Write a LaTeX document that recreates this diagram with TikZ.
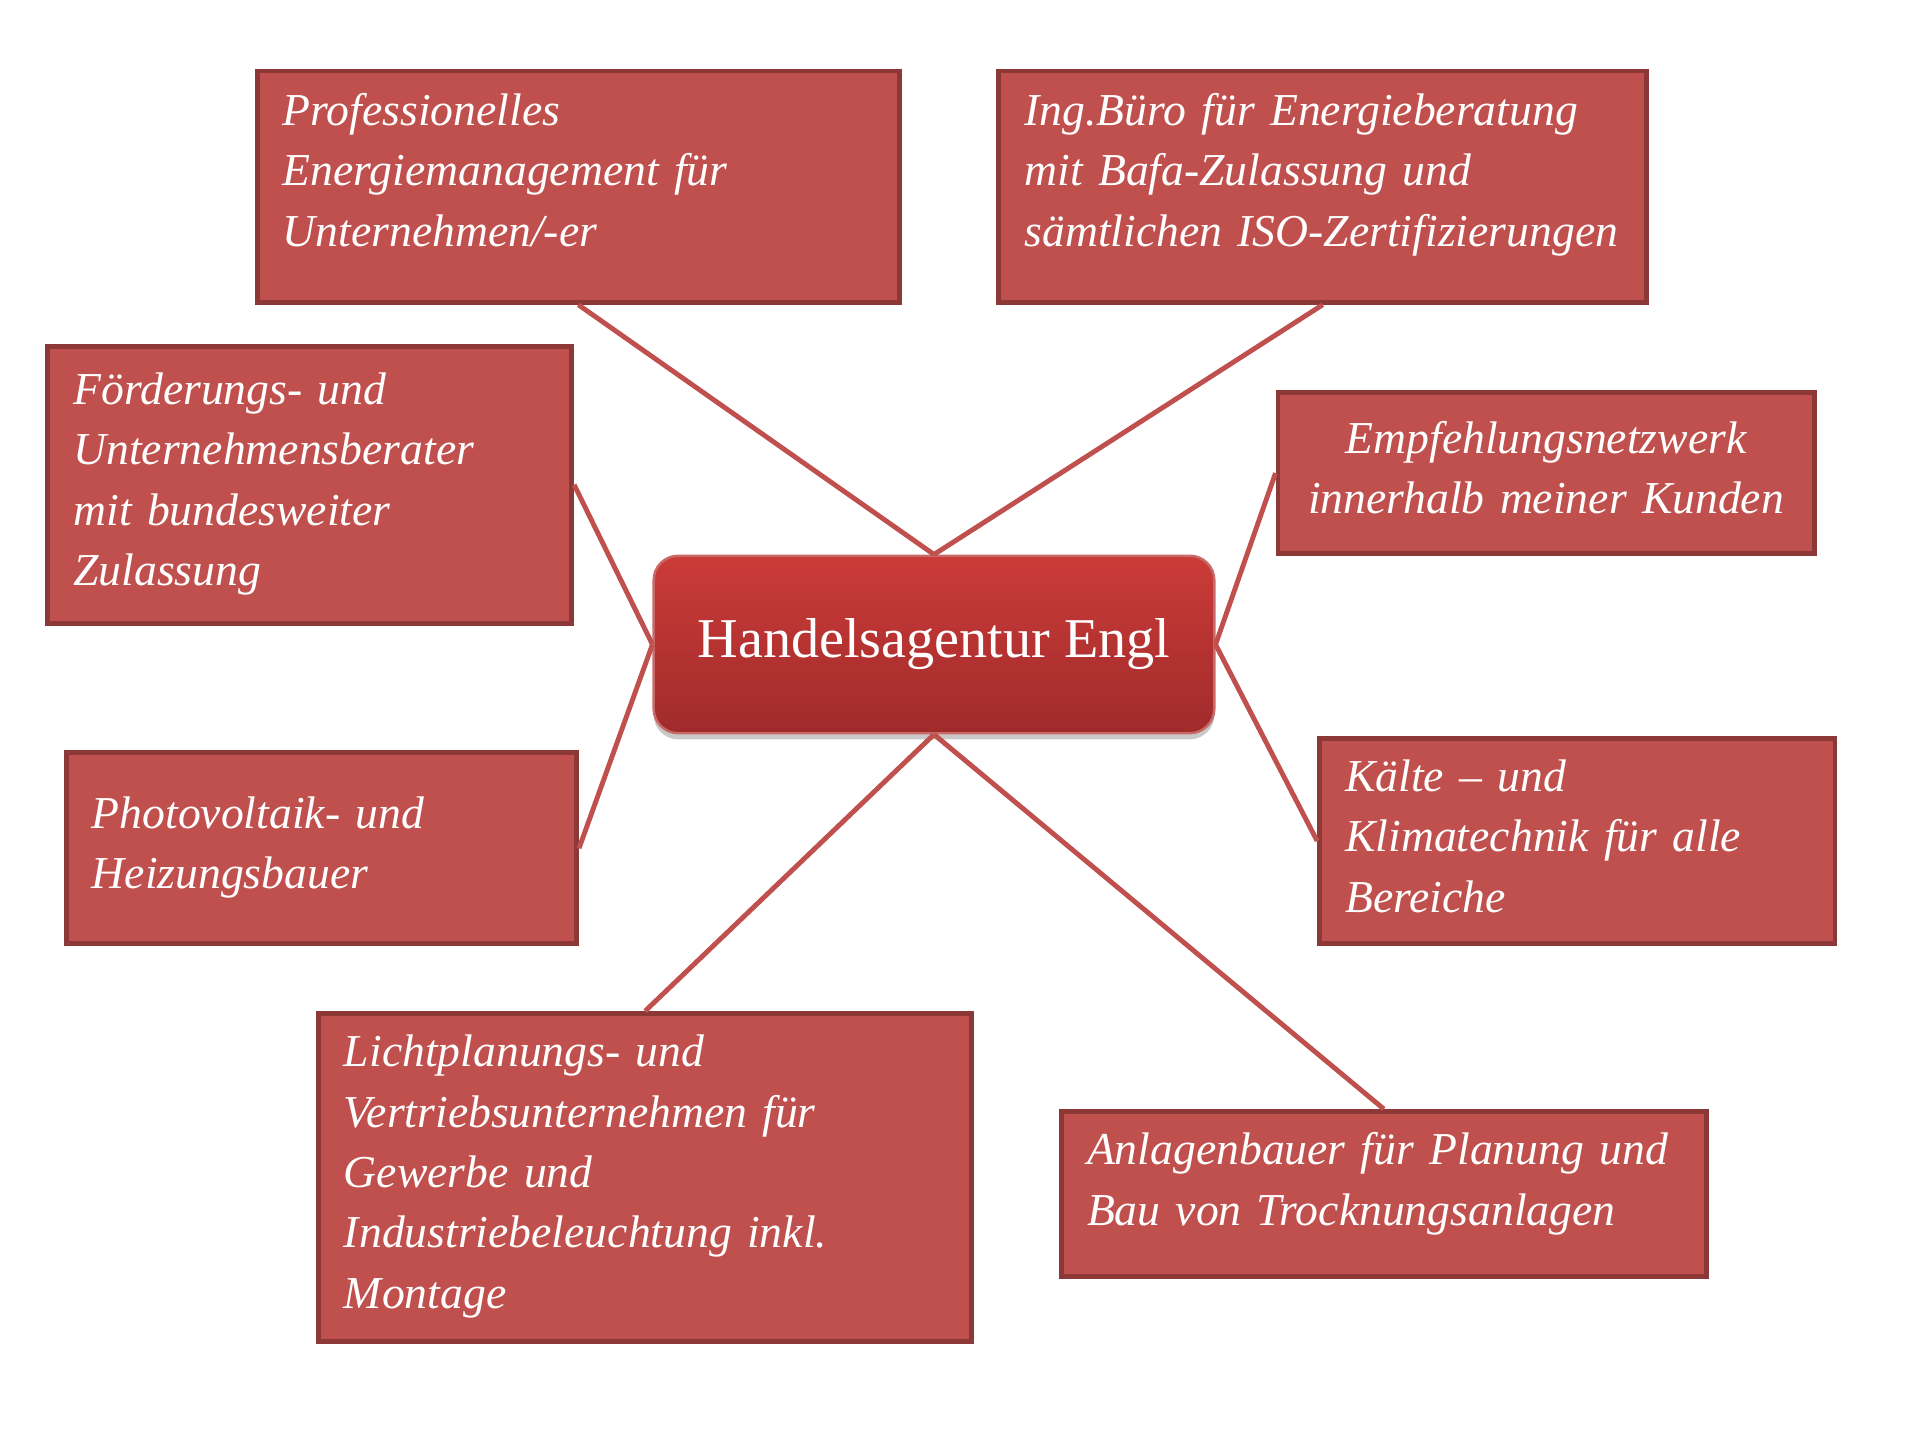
\documentclass[tikz,border=0pt]{standalone}
\usepackage{fontspec}
\setmainfont{Liberation Serif}
\usetikzlibrary{shadows}

\definecolor{feldrot}{HTML}{C0504D}
\definecolor{randrot}{HTML}{8C3836}
\definecolor{hubhell}{HTML}{CB3B38}
\definecolor{hubdunkel}{HTML}{A02B2B}

\begin{document}
\begin{tikzpicture}[x=1pt,y=-1pt,
    feld/.style={draw=randrot, fill=feldrot, line width=2pt, text=white,
        inner xsep=10.5pt, inner ysep=0pt, align=left, text height=13pt,
        font=\fontsize{18.65}{24.65}\selectfont\itshape},
    mitte/.style={draw=feldrot!85!white, line width=1pt, rounded corners=10pt,
        top color=hubhell, bottom color=hubdunkel, text=white,
        minimum width=229pt, minimum height=72.5pt,
        font=\fontsize{22.95}{28}\selectfont,
        drop shadow={shadow xshift=0pt, shadow yshift=-2.5pt, opacity=0.3, fill=black!70}},
    verbindung/.style={draw=feldrot, line width=2pt}]
    \useasboundingbox (0,0) rectangle (784.25,584.9);

    % Mitte
    \node[mitte] (hub) at (381.5,263.25) {Handelsagentur Engl};

    % oben
    \node[feld, text width=241.5pt, minimum height=94.5pt, text depth=63pt] (prof) at (236.25,76.25)
        {Professionelles\\Energiemanagement für\\Unternehmen/-er};
    \node[feld, text width=243.5pt, minimum height=94.5pt, text depth=63pt] (ing) at (540.25,76.25)
        {Ing.Büro für Energieberatung\\mit Bafa-Zulassung und\\sämtlichen~ISO-Zertifizierungen};

    % links
    \node[feld, text width=193pt, minimum height=113pt, text depth=78.5pt] (foerd) at (126.5,198)
        {Förderungs- und\\Unternehmensberater\\mit bundesweiter\\Zulassung};
    \node[feld, text width=187.5pt, minimum height=78pt, text depth=29.5pt] (pv) at (131.25,346.5)
        {Photovoltaik- und\\Heizungsbauer};

    % rechts
    \node[feld, align=center, text width=198pt, minimum height=65.5pt, text depth=29pt] (empf) at (631.5,193.25)
        {Empfehlungsnetzwerk\\innerhalb meiner Kunden};
    \node[feld, text width=189.5pt, minimum height=84pt, text depth=53.5pt] (kaelte) at (644.25,343.5)
        {Kälte – und\\Klimatechnik für alle\\Bereiche};

    % unten
    \node[feld, text width=246pt, minimum height=134pt, text depth=103.5pt] (licht) at (263.5,481)
        {Lichtplanungs- und\\Vertriebsunternehmen für\\Gewerbe und\\Industriebeleuchtung inkl.\\Montage};
    \node[feld, text width=242.5pt, minimum height=67.5pt, text depth=37pt] (anlagen) at (565.25,487.75)
        {Anlagenbauer für Planung und\\Bau von Trocknungsanlagen};

    % Verbindungen
    \draw[verbindung] (prof.south) -- (hub.north);
    \draw[verbindung] (ing.south) -- (hub.north);
    \draw[verbindung] (foerd.east) -- (hub.west);
    \draw[verbindung] (pv.east) -- (hub.west);
    \draw[verbindung] (empf.west) -- (hub.east);
    \draw[verbindung] (kaelte.west) -- (hub.east);
    \draw[verbindung] (licht.north) -- (hub.south);
    \draw[verbindung] (anlagen.north) -- (hub.south);
\end{tikzpicture}
\end{document}
